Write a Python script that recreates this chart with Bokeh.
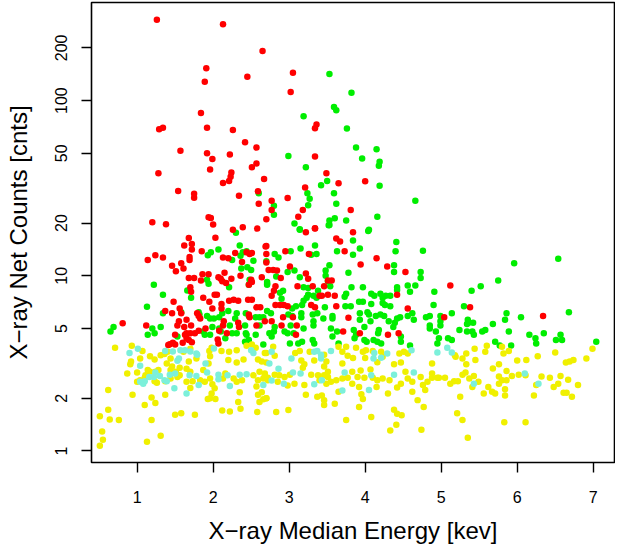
from bokeh.plotting import figure
from bokeh.models import Range1d, FixedTicker, PrintfTickFormatter
from bokeh.embed import file_html
from bokeh.resources import INLINE

# ---------------- data ----------------
x_ticks = [1, 2, 3, 4, 5, 6, 7]
y_ticks = [1, 2, 5, 10, 20, 50, 100, 200]

red_pts = [
    (1.26,289),(2.13,273),(2.65,192),(1.91,153),(3.05,144),(2.45,137),(1.89,128),(3.02,112),(1.84,85),
    (1.29,68.5),(1.34,70),(1.92,70),(2.26,68),(3.36,73),(3.34,69.5),(2.42,57.8),(2.57,54),(1.57,51.8),
    (1.92,50),(2.22,49.3),(1.99,46.4),(3.34,47.9),(2.57,43.7),(2.51,41.6),(1.96,40.4),(1.28,38.5),
    (2.24,38.8),(2.23,36.8),(2.67,35.7),(3.49,38.5),(2.13,33.9),(2.21,34.8),(3.65,33.7),(3.21,31.9),
    (1.54,30.5),(1.75,29.4),(1.75,27.9),(2.34,28.6),(2.59,30.4),(2.98,27.8),(2.77,26.8),(2.60,25.8),
    (2.77,23.7),(3.18,23.7),(3.81,23.7),(3.12,21.7),(2.70,21.0),(1.20,20.2),(1.38,19.7),(1.94,21.6),
    (1.97,21.4),(2.00,19.6),(2.39,18.9),(2.26,18.3),(2.58,18.6),(3.34,18.7),(4.00,34.6),
    (1.68,16.4),(2.03,16.5),(1.62,14.9),(1.72,15.2),(1.72,14.1),(1.85,13.8),(1.69,12.8),(1.69,12.3),
    (1.24,13.1),(1.34,12.7),(1.14,12.3),(1.46,11.4),(1.58,11.8),(1.61,11.0),(1.51,10.6),(2.13,12.7),
    (2.20,12.6),(2.29,13.5),(2.44,13.6),(2.48,13.3),(2.51,13.5),(2.38,12.0),(2.36,10.0),(2.69,14.7),
    (2.70,13.3),(1.68,9.7),(1.75,9.7),(1.86,10.2),(1.94,10.2),(2.07,9.8),(2.10,9.6),(2.15,10.4),
    (2.24,9.6),(2.12,9.3),(2.17,9.1),(1.84,9.4),(2.50,9.5),(2.51,9.2),(2.47,8.9),(2.64,9.8),(1.70,8.6),
    (1.71,8.1),(2.02,7.8),(2.05,7.8),(1.87,7.5),(1.95,7.1),(2.21,7.2),(2.27,7.3),(2.33,7.2),(2.46,7.3),
    (2.51,7.3),(1.48,7.1),(1.37,6.3),(1.56,6.5),(1.46,6.1),(1.99,6.5),(2.11,6.9),(2.11,6.5),(2.57,6.6),
    (2.62,6.6),(2.47,6.0),(1.58,6.1),(1.79,6.1),(1.81,5.9),(1.83,5.7),(1.65,5.6),(1.55,5.5),(1.53,5.2),
    (0.81,5.35),(1.12,5.2),(2.14,5.5),(2.13,5.2),(2.33,5.4),(2.34,5.1),(2.48,5.8),(2.57,5.2),(1.62,5.1),
    (1.71,5.2),(2.18,4.7),(2.08,4.85),(1.90,5.0),(1.65,4.7),(1.63,4.6),(1.70,4.7),(1.76,4.7),(1.81,4.85),
    (1.65,4.4),(1.68,4.3),(1.50,4.6),(1.60,4.15),(1.43,4.06),(1.47,4.15),(1.41,4.02),(1.50,4.05),
    (1.72,4.17),(2.06,4.32),(2.07,4.11),
    (3.22,17.7),(3.34,18.6),(3.84,17.7),(3.62,16.3),(3.67,15.7),(3.73,13.8),(2.95,13.8),(3.26,13.3),
    (4.15,12.6),(3.94,11.6),(4.29,11.3),(4.53,10.5),(3.01,11.3),(2.73,10.8),(2.79,10.8),(2.84,10.7),
    (2.70,11.9),(2.70,14.8),(3.22,10.3),(3.25,9.6),(2.89,9.7),(3.11,8.7),(3.46,8.7),(3.51,9.4),(3.56,9.4),
    (2.82,8.7),(2.80,8.2),(2.77,7.7),(3.31,8.7),(3.40,7.7),(3.43,7.7),(3.51,7.8),(3.60,7.7),(4.42,7.8),
    (2.82,6.8),(2.88,6.8),(2.93,6.8),(2.98,6.7),(3.29,6.8),(3.34,6.6),(3.62,6.7),(4.56,6.5),(3.78,5.75),
    (2.92,5.8),(3.05,5.8),(2.77,5.5),(2.68,5.5),(3.10,5.2),(2.90,5.2),(3.09,4.6),(3.71,4.8),(3.93,4.7),
    (4.30,4.6),(4.44,4.7),(5.12,8.8),(5.38,6.6),(5.04,5.8),(6.34,5.9),
]

green_pts = [
    (3.53,142),(3.82,111),(3.59,92),(3.62,88),(3.19,81.3),(3.76,69.2),(3.88,53.9),(2.99,48.3),(3.22,41.6),
    (3.50,34.8),(3.42,32.9),(3.24,29.6),(3.59,29.6),(3.27,27.5),(2.60,29.6),(3.62,25.8),(3.25,25.3),
    (2.80,25.1),(2.80,22.3),(3.07,19.9),(3.53,20.7),(3.60,21.3),(3.75,20.7),(3.53,19.5),(3.14,18.3),
    (4.15,52.7),(3.96,46.7),(4.19,44.8),(4.18,42.5),(4.19,32.6),(4.66,26.8),(4.16,21.7),(4.05,18.3),
    (2.30,17.6),(2.07,14.1),(1.97,13.6),(1.93,13.1),(2.35,14.9),(2.39,13.6),(2.44,13.8),(2.36,13.0),
    (2.25,12.3),(2.53,12.2),(2.37,11.0),(2.45,11.2),(2.50,10.8),(2.70,12.1),(1.92,9.5),(1.94,9.0),
    (2.21,8.6),(2.47,8.9),(2.48,9.5),(2.71,9.0),(1.22,8.9),(1.66,8.25),(1.34,7.8),(1.71,7.5),(1.13,6.65),
    (1.34,6.1),(1.58,6.2),(1.81,6.2),(1.82,6.0),(1.92,5.9),(1.96,5.7),(2.01,5.7),(2.08,5.8),(2.12,6.1),
    (2.20,6.3),(2.29,5.7),(2.22,5.2),(2.31,6.1),(2.43,6.1),(2.47,5.9),(2.56,5.8),(2.61,5.8),(2.66,5.8),
    (2.42,5.2),(2.61,5.2),(0.69,5.1),(0.65,4.8),(1.20,5.0),(1.23,4.7),(1.31,5.1),(1.14,4.6),(1.87,4.8),
    (1.89,4.6),(1.99,5.1),(2.08,5.0),(2.10,4.8),(1.96,4.6),(2.25,4.7),(2.31,4.7),(2.43,4.7),(2.44,4.6),
    (2.56,4.6),(2.16,4.4),(1.53,4.5),(2.42,4.2),(2.47,4.3),(2.66,4.05),
    (3.14,18.4),(3.52,19.4),(4.04,18.0),(3.84,15.9),(4.41,15.6),(3.34,14.9),(3.29,13.2),(3.36,13.3),
    (3.15,14.3),(3.02,13.8),(3.63,13.8),(3.93,14.3),(3.84,13.2),(4.40,13.8),(4.76,13.9),(2.81,13.3),
    (2.86,12.7),(3.53,11.5),(3.48,10.7),(3.07,10.7),(2.98,10.5),(3.78,10.4),(4.38,11.5),(4.38,10.5),
    (4.73,10.5),(4.73,9.7),(3.14,9.8),(2.83,9.9),(2.71,9.2),(2.71,8.9),(3.48,10.0),(3.51,9.3),(3.54,8.7),
    (3.19,8.6),(3.25,8.5),(3.82,8.6),(3.97,8.6),(4.42,8.6),(4.42,8.3),(4.56,8.8),(4.66,8.8),(4.59,8.1),
    (4.91,8.1),(2.92,8.2),(2.88,8.0),(3.38,8.2),(3.75,7.9),(3.73,7.6),(4.08,7.9),(4.12,7.7),(4.20,7.9),
    (4.23,7.5),(4.27,7.7),(4.33,7.7),(3.25,7.8),(3.23,7.5),(3.32,7.7),(3.36,7.5),(2.90,7.4),(3.19,7.2),
    (3.17,6.8),(3.09,6.7),(3.04,6.5),(3.47,6.6),(3.74,6.7),(3.81,6.7),(3.92,7.1),(3.97,7.1),(4.08,6.9),
    (4.23,7.0),(4.26,6.8),(4.33,6.7),(4.90,6.8),(2.71,6.3),(2.76,6.1),(2.99,6.0),(3.04,5.9),(3.16,6.1),
    (3.16,5.8),(3.31,6.0),(3.37,6.1),(3.45,5.7),(3.57,5.9),(3.57,5.7),(3.93,6.1),(3.93,5.6),(4.03,6.2),
    (4.05,6.0),(4.14,5.9),(4.20,6.0),(4.25,5.9),(4.07,5.5),(4.31,5.5),(4.39,5.4),(4.42,5.7),(4.46,5.8),
    (4.56,5.9),(4.62,6.1),(4.64,5.6),(4.80,5.8),(4.85,5.9),(4.85,5.2),(4.99,5.9),(4.99,5.5),(2.74,4.7),
    (2.80,4.8),(2.77,4.5),(2.81,5.1),(2.94,4.8),(2.98,4.7),(3.06,4.7),(3.02,5.2),(3.19,5.0),(3.32,5.2),
    (3.32,5.5),(3.55,5.0),(3.63,4.8),(3.85,4.9),(3.88,4.6),(3.99,5.1),(4.18,4.9),(4.17,4.7),(4.37,5.1),
    (4.85,5.0),(4.93,4.8),(4.97,4.4),(3.01,4.1),(3.12,4.1),(3.17,4.2),(3.33,4.1),(3.31,4.3),(3.57,4.5),
    (3.65,4.1),(3.86,4.4),(3.99,4.3),(4.02,4.2),(4.11,4.3),(4.16,4.2),(4.21,4.1),(4.47,4.5),(4.47,4.2),
    (4.59,4.0),(4.95,4.1),
    (6.54,12.5),(5.96,11.8),(5.75,9.4),(5.52,8.7),(5.40,8.2),(5.30,6.7),(5.14,6.1),(5.86,6.1),(5.84,5.6),
    (6.05,5.8),(6.68,6.2),(4.99,5.2),(5.35,5.6),(5.36,5.4),(5.42,5.4),(5.34,5.3),(5.68,5.3),(5.24,4.9),
    (5.34,4.8),(5.41,4.8),(5.43,4.6),(5.54,4.8),(5.58,4.9),(5.89,4.8),(6.16,4.6),(6.24,4.4),(6.25,4.1),
    (6.35,4.7),(6.57,4.6),(6.59,4.3),(6.51,4.3),(5.09,4.4),(5.14,4.3),(5.71,4.2),(5.77,4.0),(5.92,4.0),
    (7.04,4.2),
]

yellow_pts = [
    (0.71,3.88),(0.93,3.98),(1.07,3.72),(1.17,3.47),(1.23,3.33),(1.04,3.37),(0.92,3.24),(0.91,3.12),
    (0.87,2.77),(1.00,2.80),(1.14,2.90),(1.17,2.83),(1.11,2.70),(1.10,2.62),(1.04,2.53),(1.00,2.48),
    (1.24,2.83),(1.28,2.90),(1.23,2.50),(1.26,2.45),(1.31,3.52),(1.36,3.58),(1.40,3.68),(1.44,3.37),
    (1.39,3.16),(1.46,3.03),(1.44,2.90),(1.51,2.83),(1.56,2.70),(1.53,2.64),(1.44,2.59),(1.37,2.50),
    (0.62,2.23),(0.94,2.09),(1.10,1.83),(1.19,2.02),(1.24,1.88),(1.37,2.09),(0.62,1.72),(0.51,1.58),
    (0.64,1.51),(0.76,1.50),(1.19,1.50),(0.54,1.29),(0.55,1.16),(0.51,1.07),(1.31,1.22),(1.13,1.13),
    (1.50,1.61),(1.58,1.64),(1.76,1.61),(1.61,3.68),(1.70,3.83),(1.68,3.24),(1.78,3.37),(1.65,2.95),
    (1.70,2.83),(1.65,2.48),(1.73,2.50),(1.70,2.29),(1.56,2.98),(1.87,2.90),(1.94,3.16),(1.96,3.47),
    (1.95,3.72),(1.98,3.88),(1.83,2.53),(1.89,2.48),(1.96,2.59),(1.99,2.40),(2.02,2.28),(1.98,2.13),
    (1.96,2.00),(1.93,1.98),(2.03,1.98),(2.11,3.72),(2.21,3.68),(2.31,3.76),(2.20,3.31),(2.31,3.20),
    (2.40,3.33),(2.13,2.59),(2.16,2.77),(2.27,2.59),(2.31,2.48),(2.38,2.53),(2.35,2.16),(2.33,1.90),
    (2.36,1.74),(2.12,1.70),(2.22,1.68),(2.44,3.98),(2.51,4.05),(2.56,3.88),(2.59,3.33),(2.64,3.24),
    (2.53,2.70),(2.61,2.83),(2.68,2.77),(2.59,2.53),(2.66,2.59),(2.72,2.53),(2.57,2.33),(2.64,2.16),
    (2.59,2.09),(2.61,1.90),(2.66,1.97),(2.70,2.00),(2.58,1.67),(2.68,3.62),(2.70,3.20),
    (2.79,3.93),(2.70,3.62),(2.81,3.50),(3.08,3.62),(3.14,3.72),(3.27,3.68),(3.33,3.28),(3.16,3.28),
    (3.18,2.98),(3.20,3.12),(3.46,3.54),(3.49,3.24),(3.46,3.03),(3.51,2.83),(3.65,3.93),(3.70,3.68),
    (3.75,3.93),(3.77,3.50),(3.84,3.39),(3.88,3.88),(3.70,3.16),(3.97,3.68),(4.01,3.76),(4.00,3.39),
    (4.10,3.72),(4.16,3.21),(4.23,3.45),(4.21,3.68),(4.38,3.12),(4.47,3.20),(4.45,3.60),(4.51,3.68),
    (4.56,3.60),(4.88,3.16),(4.88,2.77),(2.68,2.70),(2.72,2.62),(2.81,2.72),(2.87,2.70),(2.94,2.64),
    (3.01,2.72),(2.85,2.48),(2.98,2.36),(3.07,2.42),(3.20,2.38),(3.29,2.72),(3.38,2.70),(3.40,2.53),
    (3.46,2.70),(3.51,2.64),(3.55,2.48),(3.49,2.42),(3.62,2.53),(3.70,2.59),(3.77,2.62),(3.83,2.83),
    (3.90,2.64),(3.94,2.88),(3.99,2.62),(4.07,2.92),(3.83,2.42),(3.92,2.32),(4.10,2.62),(4.16,2.53),
    (4.23,2.59),(4.32,2.53),(4.15,2.32),(4.30,2.13),(4.42,2.30),(4.47,2.42),(4.53,2.83),(4.56,2.59),
    (4.62,2.48),(4.73,2.64),(4.76,2.38),(4.82,2.48),(4.88,2.62),(4.95,2.62),(4.79,2.23),(4.69,1.95),
    (4.62,2.18),(3.65,2.18),(3.22,2.09),(3.37,2.04),(3.43,2.07),(3.46,1.95),(3.46,1.83),(3.60,1.86),
    (3.95,2.11),(3.97,1.98),(2.70,2.00),(2.83,1.67),(2.99,1.71),(3.92,1.78),(4.08,1.56),(3.75,1.50),
    (4.38,1.72),(4.42,1.63),(4.48,1.60),(4.77,1.78),(4.41,1.41),(4.33,1.31),(4.74,1.32),
    (5.18,3.52),(5.19,3.45),(5.28,3.37),(5.33,3.60),(5.33,3.12),(5.44,3.83),(5.45,3.31),(5.58,3.68),
    (5.60,3.98),(5.80,3.93),(5.82,3.60),(5.89,3.72),(5.68,2.96),(5.76,3.12),(5.86,2.86),(6.00,3.28),
    (6.12,3.31),(6.27,3.47),(6.50,3.65),(6.64,3.20),(6.69,3.24),(6.74,3.31),(6.91,3.37),(6.99,3.83),
    (4.97,2.62),(5.05,2.62),(5.12,2.42),(5.17,2.50),(5.22,2.50),(5.28,2.72),(5.32,2.80),(5.37,2.59),
    (5.41,2.32),(5.43,2.68),(5.49,2.48),(5.62,2.32),(5.56,2.13),(5.67,2.18),(5.71,2.13),(5.76,2.66),
    (5.80,2.53),(5.76,2.42),(5.86,2.53),(5.84,2.25),(5.84,2.07),(5.93,2.68),(6.02,2.72),(6.11,2.70),
    (6.22,2.07),(6.25,2.38),(6.32,2.66),(6.43,2.62),(6.48,2.32),(6.54,2.42),(6.57,2.68),(6.67,2.55),
    (6.61,2.15),(6.65,2.15),(6.72,2.04),(6.80,2.38),(5.25,2.04),(5.21,1.64),(5.28,1.50),(5.35,1.19),
    (5.83,1.46),(6.11,1.46),
]

cyan_pts = [
    (0.90,3.62),(1.01,3.83),(1.04,3.06),(1.22,2.64),(1.16,2.64),(1.10,2.50),(1.04,2.48),(1.08,2.42),
    (1.24,2.80),(1.30,2.68),(1.37,3.72),(1.47,3.70),(1.55,3.37),(1.53,3.27),(1.57,3.76),(1.63,3.76),
    (1.70,3.70),(1.78,3.60),(1.79,3.54),(1.43,2.72),(1.50,2.77),(1.36,2.53),(1.39,2.50),(1.69,2.70),
    (1.78,2.68),(1.49,2.28),(1.65,2.13),(1.81,2.38),(1.90,3.16),(1.92,2.80),(2.01,3.85),(2.07,2.72),
    (2.07,2.57),(2.19,2.70),(2.22,2.35),(2.35,2.72),(2.44,2.74),(2.50,3.76),(2.53,3.62),(2.66,2.38),
    (2.77,3.68),(2.74,3.16),(2.77,2.52),(2.86,2.95),(2.93,2.42),(3.03,3.37),(3.05,2.80),(3.15,2.77),
    (3.33,3.68),(3.37,3.72),(3.42,3.54),(3.42,3.37),(3.55,3.72),(3.33,2.40),(3.43,2.53),(3.73,2.80),
    (3.70,2.21),(4.05,2.23),(4.08,2.70),(4.12,3.62),(4.11,3.37),(4.21,3.40),(4.29,3.60),(4.38,2.72),
    (4.61,3.76),(4.64,2.80),(4.95,3.65),(5.08,3.88),(5.14,3.65),(5.43,2.42),(6.10,2.77),(6.28,2.42),
]

x_label = "X\u2212ray Median Energy [kev]"
y_label = "X\u2212ray Net Counts [cnts]"

# ---------------- figure ----------------
FONT = "Liberation Sans"

p = figure(width=615, height=547, output_backend="svg", toolbar_location=None,
           x_range=Range1d(0.40, 7.28), y_range=Range1d(0.859, 363),
           y_axis_type="log",
           min_border_left=91, min_border_right=1, min_border_top=2, min_border_bottom=85)

groups = [
    (green_pts, "#00EE00"),
    (red_pts, "#FF0000"),
    (yellow_pts, "#F0F000"),
    (cyan_pts, "#7CF0DA"),
]
for pts, col in groups:
    xs = [a for a, b in pts]
    ys = [b for a, b in pts]
    p.scatter(xs, ys, size=6.5, fill_color=col, line_color=None)

p.grid.visible = False
p.outline_line_color = "black"
p.outline_line_width = 1.6
p.background_fill_color = "white"
p.border_fill_color = "white"

p.xaxis.ticker = FixedTicker(ticks=x_ticks)
p.yaxis.ticker = FixedTicker(ticks=y_ticks)
p.yaxis.formatter = PrintfTickFormatter(format="%d")
p.xaxis.formatter = PrintfTickFormatter(format="%d")

for ax in (p.xaxis[0], p.yaxis[0]):
    ax.axis_line_color = None
    ax.major_tick_out = 10
    ax.major_tick_in = 0
    ax.major_tick_line_width = 1.4
    ax.major_tick_line_color = "black"
    ax.minor_tick_line_color = None
    ax.major_label_text_font = FONT
    ax.major_label_text_font_size = "16px"
    ax.major_label_text_color = "black"
    ax.axis_label_text_font = FONT
    ax.axis_label_text_font_size = "24px"
    ax.axis_label_text_font_style = "normal"
    ax.axis_label_text_color = "black"

p.xaxis.axis_label = x_label
p.yaxis.axis_label = y_label
p.xaxis.major_label_standoff = 18
p.xaxis.axis_label_standoff = 11
p.yaxis.major_label_orientation = "parallel"
p.yaxis.major_label_standoff = 14
p.yaxis.axis_label_standoff = 21

open("out.html", "w").write(file_html(p, INLINE))
